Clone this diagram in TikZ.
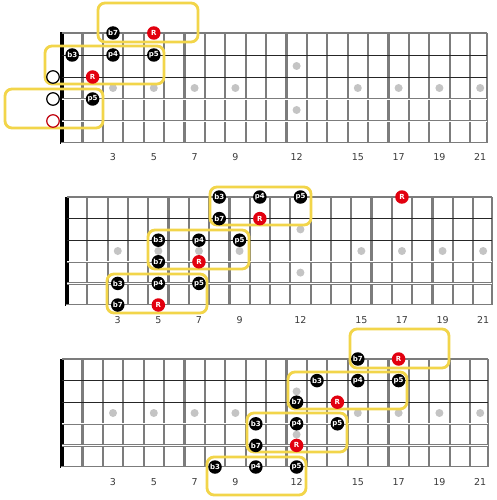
\documentclass[tikz,border=0pt]{standalone}
\usepackage{fontspec}
\newfontfamily\labfont{DejaVu Sans}
\newfontfamily\notefont{DejaVu Sans}
\definecolor{fretgray}{HTML}{7C7C7C}
\definecolor{inlaygray}{HTML}{C4C4C4}
\definecolor{boxyellow}{HTML}{F2D54A}
\definecolor{rootred}{HTML}{E2000F}
\definecolor{labgray}{HTML}{3A3A3A}
\tikzset{
  fret/.style={draw=fretgray,line width=2.2},
  nut/.style={draw=black,line width=3.5},
  topstr/.style={draw=fretgray,line width=1.1},
  thinstr/.style={draw=black!85,line width=0.9},
  dblstr/.style={draw=fretgray,line width=0.8,double=white,double distance=0.9},
  inlay/.style={fill=inlaygray},
  fretnum/.style={font=\labfont\fontsize{9.5}{10}\selectfont,text=labgray,inner sep=0},
  ybox/.style={draw=boxyellow,line width=2.8,rounded corners=7},
  note/.style={circle,fill=black,minimum size=13.5,inner sep=0,text=white,font=\notefont\bfseries\fontsize{7}{7}\selectfont},
  root/.style={note,fill=rootred},
  opencirc/.style={circle,draw=black,fill=white,line width=1.2,minimum size=12.5,inner sep=0},
  openred/.style={opencirc,draw=rootred!85!black}
}
\newcommand\fboard[6]{%
  \pgfmathsetmacro\ybot{#3+5*#4}%
  \foreach \f in {3,5,7,9,15,17,19,21}{\fill[inlay] ({#1+#5*(\f-0.5)},{#3+2.5*#4}) circle (4);}
  \fill[inlay] ({#1+#5*11.5},{#3+1.5*#4}) circle (4);
  \fill[inlay] ({#1+#5*11.5},{#3+3.5*#4}) circle (4);
  \foreach \f in {1,...,20}{\draw[fret] ({#1+#5*\f},#3) -- ({#1+#5*\f},\ybot);}
  \draw[fret] (#2,#3) -- (#2,\ybot);
  \draw[nut] (#1,{#3-0.5}) -- (#1,{\ybot+0.5});
  \draw[topstr] (#1,#3) -- (#2,#3);
  \draw[thinstr] (#1,{#3+#4}) -- (#2,{#3+#4});
  \draw[thinstr] (#1,{#3+2*#4}) -- (#2,{#3+2*#4});
  \draw[dblstr] (#1,{#3+3*#4}) -- (#2,{#3+3*#4});
  \draw[dblstr] (#1,{#3+4*#4}) -- (#2,{#3+4*#4});
  \draw[dblstr] ({#1-1},\ybot) -- (#2,\ybot);
  \foreach \f in {3,5,7,9,12,15,17,19,21}{\node[fretnum] at ({#1+#5*(\f-0.5)},#6) {\f};}
}
\begin{document}
\begin{tikzpicture}[x=1pt,y=-1pt]
\useasboundingbox (0,0) rectangle (496,500);
\fill[white] (0,0) rectangle (496,500);

% ---------- diagram 1 ----------
\fboard{62}{487}{33}{22}{20.4}{157}
\draw[ybox] (98,3) rectangle (198,42);
\draw[ybox] (45,46) rectangle (164,84);
\draw[ybox] (5,89) rectangle (103,128);
\node[note] (a1) at (113,33) {b7};
\node[root] (a2) at (153.8,33) {R};
\node[note] (a3) at (72.2,55) {b3};
\node[note] (a4) at (113,55) {p4};
\node[note] (a5) at (153.8,55) {p5};
\node[opencirc] (a6) at (53,77) {};
\node[root] (a7) at (92.6,77) {R};
\node[opencirc] (a8) at (53,99) {};
\node[note] (a9) at (92.6,99) {p5};
\node[openred] (a10) at (53,121) {};

% ---------- diagram 2 ----------
\fboard{67}{492}{197}{21.6}{20.3}{320}
\draw[ybox] (210,187) rectangle (311,225);
\draw[ybox] (148,230) rectangle (249,269);
\draw[ybox] (107,274) rectangle (207,313);
\node[note] (b1) at (219.25,197) {b3};
\node[note] (b2) at (259.85,197) {p4};
\node[note] (b3) at (300.45,197) {p5};
\node[root] (b4) at (401.95,197) {R};
\node[note] (b5) at (219.25,218.6) {b7};
\node[root] (b6) at (259.85,218.6) {R};
\node[note] (b7) at (158.35,240.2) {b3};
\node[note] (b8) at (198.95,240.2) {p4};
\node[note] (b9) at (239.55,240.2) {p5};
\node[note] (b10) at (158.35,261.8) {b7};
\node[root] (b11) at (198.95,261.8) {R};
\node[note] (b12) at (117.75,283.4) {b3};
\node[note] (b13) at (158.35,283.4) {p4};
\node[note] (b14) at (198.95,283.4) {p5};
\node[note] (b15) at (117.75,305) {b7};
\node[root] (b16) at (158.35,305) {R};

% ---------- diagram 3 ----------
\fboard{62}{488}{359}{21.6}{20.4}{482}
\draw[ybox] (350,329) rectangle (449,368);
\draw[ybox] (288,372) rectangle (407,409);
\draw[ybox] (247,413) rectangle (347,452);
\draw[ybox] (207,457) rectangle (306,495);
\node[note] (c1) at (357.8,359) {b7};
\node[root] (c2) at (398.6,359) {R};
\node[note] (c3) at (317,380.6) {b3};
\node[note] (c4) at (357.8,380.6) {p4};
\node[note] (c5) at (398.6,380.6) {p5};
\node[note] (c6) at (296.6,402.2) {b7};
\node[root] (c7) at (337.4,402.2) {R};
\node[note] (c8) at (255.8,423.8) {b3};
\node[note] (c9) at (296.6,423.8) {p4};
\node[note] (c10) at (337.4,423.8) {p5};
\node[note] (c11) at (255.8,445.4) {b7};
\node[root] (c12) at (296.6,445.4) {R};
\node[note] (c13) at (215,467) {b3};
\node[note] (c14) at (255.8,467) {p4};
\node[note] (c15) at (296.6,467) {p5};
\end{tikzpicture}
\end{document}
